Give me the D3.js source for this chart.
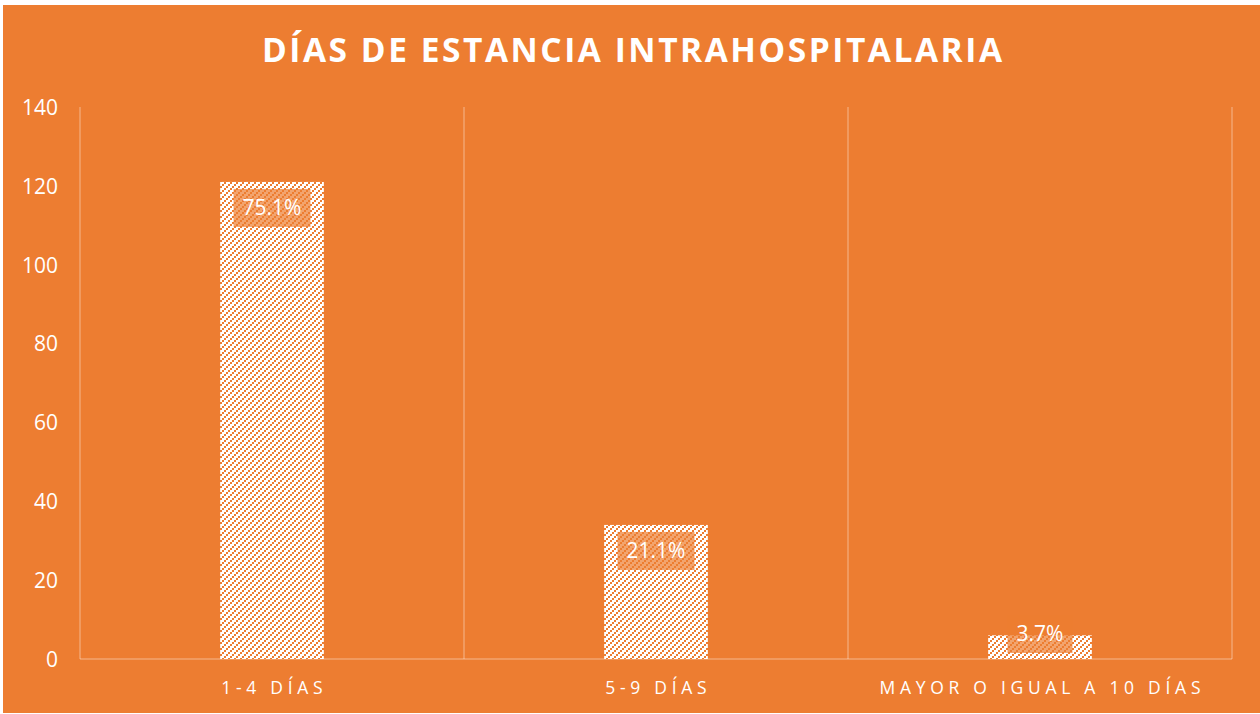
<!DOCTYPE html>
<html><head><meta charset="utf-8">
<script src="https://cdn.jsdelivr.net/npm/d3@7"></script>
<style>html,body{margin:0;padding:0;background:#fff;}svg{display:block;}</style>
</head><body>
<script>
const title = "DÍAS DE ESTANCIA INTRAHOSPITALARIA";
const categories = ["1-4 DÍAS", "5-9 DÍAS", "MAYOR O IGUAL A 10 DÍAS"];
const values = [121, 34, 6];
const percentLabels = ["75.1%", "21.1%", "3.7%"];
const yTicks = [0, 20, 40, 60, 80, 100, 120, 140];

const W = 1260, H = 714;
const ORANGE = "#ED7D31";
const FONT = "'Open Sans', 'DejaVu Sans', sans-serif";

const svg = d3.select("body").append("svg").attr("width", W).attr("height", H);
const defs = svg.append("defs");
const pat = defs.append("pattern").attr("id", "diag").attr("patternUnits", "userSpaceOnUse")
  .attr("width", 6).attr("height", 6);
pat.append("rect").attr("width", 6).attr("height", 6).attr("fill", "#fff");
[[0, 4], [2, 2], [4, 0]].forEach(([px, py]) => {
  pat.append("rect").attr("x", px).attr("y", py).attr("width", 2).attr("height", 2)
    .attr("fill", ORANGE).attr("shape-rendering", "crispEdges");
});

svg.append("rect").attr("x", 3).attr("y", 5).attr("width", W - 3).attr("height", H - 6).attr("fill", ORANGE);

const x = d3.scaleBand().domain(categories).range([80, 1232]).padding(0);
const y = d3.scaleLinear().domain([0, 140]).range([659, 107]);
const barW = x.bandwidth() * 0.27;

// vertical gridlines at band boundaries
const gridX = categories.map(c => x(c)).concat([x.range()[1]]);
svg.append("g").selectAll("line").data(gridX).join("line")
  .attr("x1", d => d).attr("x2", d => d).attr("y1", y(140)).attr("y2", y(0))
  .attr("stroke", "#fff").attr("stroke-opacity", 0.3).attr("stroke-width", 1.5);
svg.append("line").attr("x1", x.range()[0]).attr("x2", x.range()[1]).attr("y1", y(0)).attr("y2", y(0))
  .attr("stroke", "#fff").attr("stroke-opacity", 0.3).attr("stroke-width", 1.5);

// y axis
const yAxis = d3.axisLeft(y).tickValues(yTicks).tickSize(0).tickPadding(0);
const ya = svg.append("g").attr("transform", "translate(58,0)").call(yAxis);
ya.select(".domain").remove();
ya.selectAll("text").attr("fill", "#fff").attr("font-family", FONT).attr("font-size", 21).attr("dy", "0.35em");

// bars
svg.append("g").selectAll("rect").data(values).join("rect")
  .attr("x", (d, i) => x(categories[i]) + x.bandwidth() / 2 - barW / 2)
  .attr("width", barW)
  .attr("y", d => y(d)).attr("height", d => y(0) - y(d))
  .attr("fill", "url(#diag)");

// data labels
const lg = svg.append("g");
values.forEach((v, i) => {
  const cx = x(categories[i]) + x.bandwidth() / 2;
  const cy = Math.min(y(v) + 26, y(0) - 25);
  const g = lg.append("g");
  const r = g.append("rect");
  const t = g.append("text").attr("x", cx).attr("y", cy).attr("text-anchor", "middle").attr("dy", "0.35em")
    .attr("fill", "#fff").attr("font-family", FONT).attr("font-size", 21).text(percentLabels[i]);
  const tw = t.node().getComputedTextLength();
  r.attr("x", cx - tw / 2 - 9).attr("y", cy - 19).attr("width", tw + 18).attr("height", 38)
    .attr("fill", ORANGE).attr("fill-opacity", 0.7);
});

// spaced text helper
function spaced(sel, str, cx, baseline, targetW, opts) {
  const t = sel.append("text").attr("y", baseline).attr("fill", "#fff").attr("font-family", FONT)
    .attr("font-size", opts.size).attr("font-weight", opts.weight || "normal").text(str);
  const w0 = t.node().getComputedTextLength();
  const ls = opts.ls !== undefined ? opts.ls : (targetW - w0) / (str.length - 1);
  const w = w0 + ls * (str.length - 1);
  t.attr("letter-spacing", ls).attr("x", cx - w / 2);
  return ls;
}

// title
spaced(svg, title, 632, 62, 740, {size: 33.5, weight: "bold"});

// x axis labels
const tmp = svg.append("text").attr("font-family", FONT).attr("font-size", 17.5).text(categories[2]);
const lw = tmp.node().getComputedTextLength(); tmp.remove();
const axisLs = (321 - lw) / (categories[2].length - 1);
categories.forEach(c => {
  spaced(svg, c, x(c) + x.bandwidth() / 2, 694, 0, {size: 17.5, ls: axisLs});
});
</script>
</body></html>
